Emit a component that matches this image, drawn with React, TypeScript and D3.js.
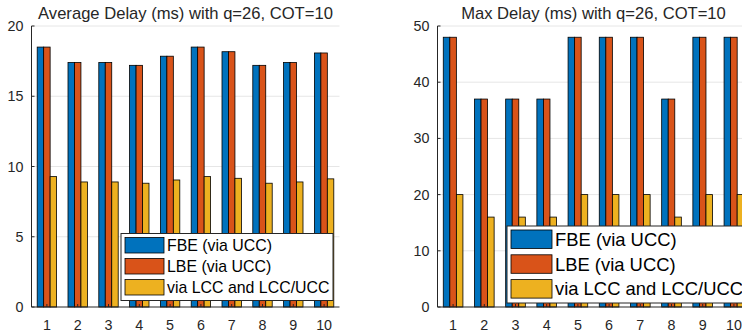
import React from 'react';
import * as d3 from 'd3';

const categories = [1, 2, 3, 4, 5, 6, 7, 8, 9, 10];
const seriesNames = ['FBE (via UCC)', 'LBE (via UCC)', 'via LCC and LCC/UCC'];
const colors = ['#0072BD', '#D95319', '#EDB120'];

// average delay
const avgFbe = [18.5, 17.4, 17.4, 17.2, 17.85, 18.5, 18.17, 17.2, 17.4, 18.08];
const avgLbe = [18.5, 17.4, 17.4, 17.2, 17.85, 18.5, 18.17, 17.2, 17.4, 18.08];
const avgLcc = [9.28, 8.9, 8.9, 8.81, 9.04, 9.28, 9.16, 8.81, 8.9, 9.12];
const avgTicks = [0, 5, 10, 15, 20];

// max delay
const maxFbe = [48, 37, 37, 37, 48, 48, 48, 37, 48, 48];
const maxLbe = [48, 37, 37, 37, 48, 48, 48, 37, 48, 48];
const maxLcc = [20, 16, 16, 16, 20, 20, 20, 16, 20, 20];
const maxTicks = [0, 10, 20, 30, 40, 50];

const FONT = '"Liberation Sans", Arial, Helvetica, sans-serif';
const AXIS = '#262626';

type PanelProps = {
  title: string;
  series: number[][];
  yMax: number;
  ticks: number[];
  x0: number;
  x1: number;
  legend: { x: number; y: number; w: number; h: number; sw: number; sh: number; rowGap: number; fs: number };
};

const Panel = ({ title, series, yMax, ticks, x0, x1, legend }: PanelProps) => {
  const top = 26;
  const bottom = 307;
  const x = d3.scaleLinear().domain([0.5, 10.5]).range([x0, x1]);
  const y = d3.scaleLinear().domain([0, yMax]).range([bottom, top]);
  const unit = x(1) - x(0);
  const barW = unit * 0.21;
  const offsets = [-0.21, 0, 0.21];

  return (
    <g>
      <text x={(x0 + x1) / 2} y={18.5} textAnchor="middle" fontSize={16.6} fill={AXIS} fontFamily={FONT}>
        {title}
      </text>
      {ticks.map(t => (
        <g key={t}>
          {t > 0 && <line x1={x0} x2={x1} y1={y(t)} y2={y(t)} stroke="#e6e6e6" strokeWidth={1} />}
          <line x1={x0} x2={x0 + 3} y1={y(t)} y2={y(t)} stroke={AXIS} />
          <text x={x0 - 8} y={y(t) + 5} textAnchor="end" fontSize={14.3} fill={AXIS} fontFamily={FONT}>
            {t}
          </text>
        </g>
      ))}
      {series.map((vals, si) =>
        vals.map((v, i) => (
          <rect
            key={`${si}-${i}`}
            x={x(categories[i] + offsets[si]) - barW / 2}
            y={y(v)}
            width={barW}
            height={y(0) - y(v)}
            fill={colors[si]}
            stroke="#000"
            strokeWidth={0.8}
          />
        ))
      )}
      <line x1={x0} x2={x0} y1={top} y2={bottom} stroke={AXIS} strokeWidth={1} />
      <line x1={x0} x2={x1} y1={bottom} y2={bottom} stroke={AXIS} strokeWidth={1} />
      {categories.map(c => (
        <g key={c}>
          <line x1={x(c)} x2={x(c)} y1={bottom} y2={bottom - 3} stroke={AXIS} />
          <text x={x(c)} y={329.5} textAnchor="middle" fontSize={14.3} fill={AXIS} fontFamily={FONT}>
            {c}
          </text>
        </g>
      ))}
      <g>
        <rect x={legend.x} y={legend.y} width={legend.w} height={legend.h} fill="#fff" stroke={AXIS} strokeWidth={1} />
        {seriesNames.map((name, i) => {
          const ry = legend.y + 4 + i * legend.rowGap;
          return (
            <g key={name}>
              <rect x={legend.x + 4} y={ry} width={legend.sw} height={legend.sh} fill={colors[i]} stroke="#000" strokeWidth={0.8} />
              <text
                x={legend.x + 4 + legend.sw + 3}
                y={ry + legend.sh / 2 + legend.fs * 0.36}
                fontSize={legend.fs}
                fill="#000"
                fontFamily={FONT}
              >
                {name}
              </text>
            </g>
          );
        })}
      </g>
    </g>
  );
};

const App = () => {
  return (
    <svg width={742} height={336} style={{ position: 'absolute', left: 0, top: 0, background: '#fff' }}>
      <Panel
        title="Average Delay (ms) with q=26, COT=10"
        series={[avgFbe, avgLbe, avgLcc]}
        yMax={20}
        ticks={avgTicks}
        x0={31.5}
        x1={339.5}
        legend={{ x: 121, y: 233.5, w: 212, h: 67, sw: 39, sh: 15.5, rowGap: 21, fs: 15.9 }}
      />
      <Panel
        title="Max Delay (ms) with q=26, COT=10"
        series={[maxFbe, maxLbe, maxLcc]}
        yMax={50}
        ticks={maxTicks}
        x0={437.5}
        x1={749.5}
        legend={{ x: 507, y: 226, w: 250, h: 77, sw: 41, sh: 18.5, rowGap: 24.8, fs: 18.4 }}
      />
    </svg>
  );
};

export default App;
